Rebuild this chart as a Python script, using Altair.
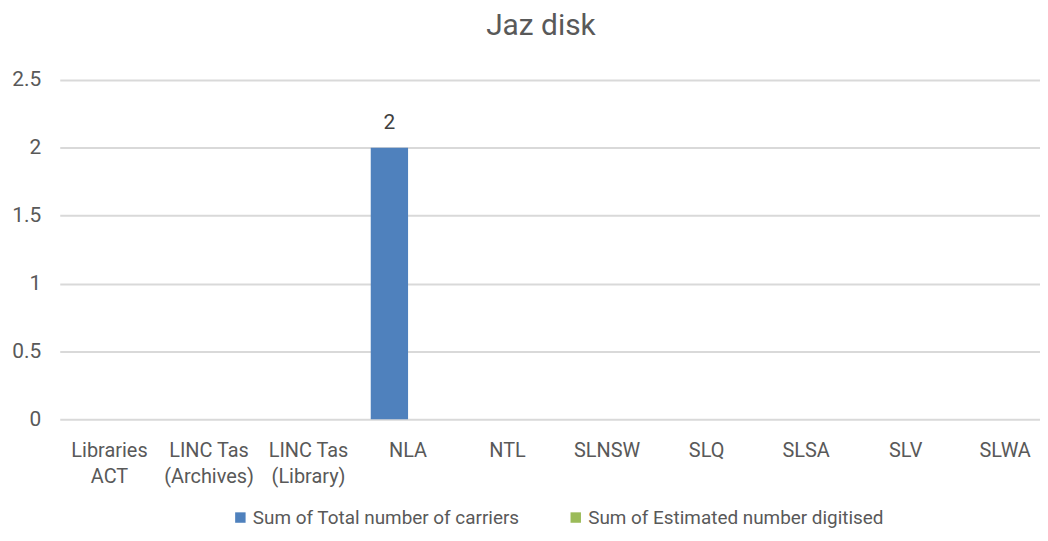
import altair as alt
import pandas as pd

categories = ["Libraries\nACT", "LINC Tas\n(Archives)", "LINC Tas\n(Library)", "NLA", "NTL",
              "SLNSW", "SLQ", "SLSA", "SLV", "SLWA"]
series = ["Sum of Total number of carriers", "Sum of Estimated number digitised"]
total_carriers = [None, None, None, 2, None, None, None, None, None, None]
est_digitised = [None, None, None, None, None, None, None, None, None, None]
colors = ["#4F81BD", "#9BBB59"]

rows = []
for i, c in enumerate(categories):
    rows.append({"cat": c, "series": series[0], "value": total_carriers[i]})
    rows.append({"cat": c, "series": series[1], "value": est_digitised[i]})
df = pd.DataFrame(rows)

FONT = "Liberation Sans Narrow, Arial Narrow, Roboto, Liberation Sans, sans-serif"
GREY = "#595959"

xscale = alt.Scale(domain=categories, range=[0, 1000], paddingInner=0.25, paddingOuter=0.125)
oscale = alt.Scale(domain=series, paddingInner=0)
yscale = alt.Scale(domain=[0, 2.5], nice=False)

x = alt.X("cat:N", sort=categories, title=None, scale=xscale,
          axis=alt.Axis(labelAngle=0, labelExpr="split(datum.label, '\\n')",
                        labelFont=FONT, labelFontSize=20, labelColor=GREY,
                        labelLineHeight=27, labelPadding=21, ticks=False, domain=False,
                        grid=False, labelLimit=200))
xo = alt.XOffset("series:N", sort=series, scale=oscale)
y = alt.Y("value:Q", title=None, scale=yscale,
          axis=alt.Axis(values=[0, 0.5, 1, 1.5, 2, 2.5], labelExpr="datum.value + ''",
                        labelFont=FONT, labelFontSize=21,
                        labelColor=GREY, ticks=False, domain=False, grid=True,
                        gridColor="#D9D9D9", gridWidth=2, labelPadding=19))
color = alt.Color("series:N", sort=series,
                  scale=alt.Scale(domain=series, range=colors),
                  legend=alt.Legend(orient="none", legendX=172, legendY=430,
                                    direction="horizontal", title=None,
                                    symbolType="square", symbolSize=110, symbolStrokeWidth=0,
                                    labelFont=FONT, labelFontSize=19, labelColor=GREY,
                                    columnPadding=46, labelLimit=400, labelOffset=3,
                                    symbolOffset=0))

bars = alt.Chart(df).mark_bar().encode(x=x, xOffset=xo, y=y, color=color)
labels = alt.Chart(df).transform_filter("datum.value != null").mark_text(
    dy=-25, font=FONT, fontSize=21, color="#404040", baseline="middle"
).encode(x=x, xOffset=xo, y=y, text=alt.Text("value:Q"))

chart = alt.layer(bars, labels).properties(
    width=985, height=341,
    background="white",
    title=alt.TitleParams("Jaz disk", font=FONT, fontSize=30, fontWeight="normal",
                          color=GREY, anchor="middle", offset=28, dx=-9),
    autosize=alt.AutoSizeParams(type="none"),
    padding={"left": 52, "top": 71, "right": 0, "bottom": 112},
).configure_view(strokeWidth=0, stroke="transparent")

chart.save("out.html", embed_options={"renderer": "svg", "actions": False})
